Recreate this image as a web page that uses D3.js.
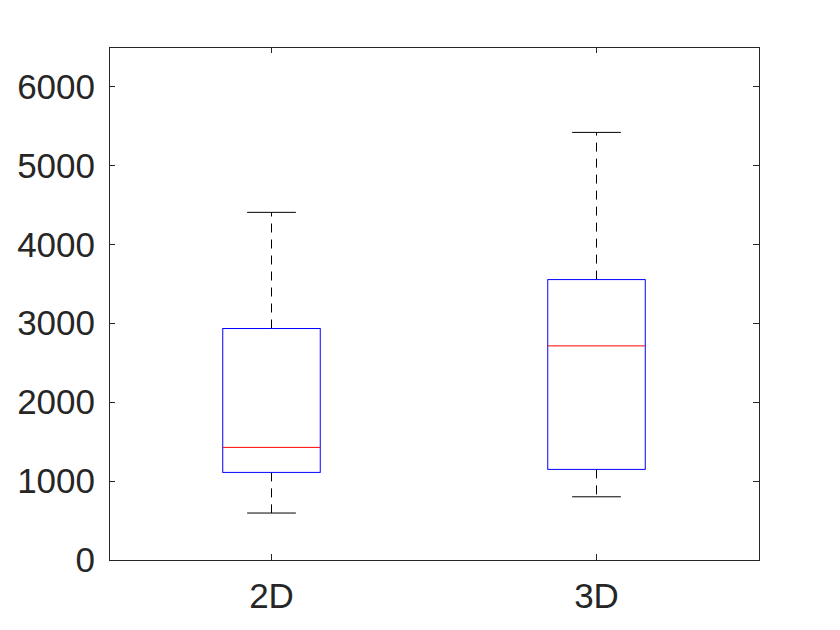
<!DOCTYPE html>
<html>
<head>
<meta charset="utf-8">
<script src="https://cdn.jsdelivr.net/npm/d3@7"></script>
<style>
  body { margin: 0; background: #fff; }
  svg text { font-family: "Liberation Sans", Arial, Helvetica, sans-serif; fill: #262626; }
  .axis-line { shape-rendering: crispEdges; }
</style>
</head>
<body>
<div id="chart"></div>
<script>
// box plot values
var groups = ['2D', '3D'];
var whiskerLow = [595, 801];
var q1 = [1110, 1148];
var median = [1427, 2713];
var q3 = [2933, 3553];
var whiskerHigh = [4405, 5418];
var yTicks = [0, 1000, 2000, 3000, 4000, 5000, 6000];

var svgWidth = 840;
var svgHeight = 630;
var margin = { top: 47, right: 81, bottom: 70, left: 109 };
var width = svgWidth - margin.left - margin.right;
var height = svgHeight - margin.top - margin.bottom;

var svg = d3.select('#chart').append('svg')
    .attr('width', svgWidth)
    .attr('height', svgHeight);

var chartGroup = svg.append('g')
    .attr('transform', `translate(${margin.left},${margin.top})`);

var data = groups.map(function(g, i) {
    return { name: g, idx: i + 1, lo: whiskerLow[i], q1: q1[i], med: median[i], q3: q3[i], hi: whiskerHigh[i] };
});

var x = d3.scaleLinear().domain([0.5, 2.5]).range([0, width]);
var y = d3.scaleLinear().domain([0, 6500]).range([height, 0]);

var boxW = x(1.15) - x(0.85);
var capW = x(1.075) - x(0.925);
var axisColor = '#262626';

// frame
chartGroup.append('rect')
    .attr('class', 'axis-line')
    .attr('x', 0).attr('y', 0)
    .attr('width', width).attr('height', height)
    .attr('fill', 'none')
    .attr('stroke', axisColor)
    .attr('stroke-width', 1);

// ticks (inside, mirrored like matlab)
var tickLen = 6;
yTicks.forEach(function(t) {
    chartGroup.append('line')
        .attr('class', 'axis-line')
        .attr('x1', 0).attr('x2', tickLen)
        .attr('y1', y(t)).attr('y2', y(t))
        .attr('stroke', axisColor);
    chartGroup.append('line')
        .attr('class', 'axis-line')
        .attr('x1', width - tickLen).attr('x2', width)
        .attr('y1', y(t)).attr('y2', y(t))
        .attr('stroke', axisColor);
    chartGroup.append('text')
        .attr('x', -14)
        .attr('y', y(t))
        .attr('dy', '0.35em')
        .attr('text-anchor', 'end')
        .style('font-size', '35px')
        .text(t);
});

data.forEach(function(d) {
    chartGroup.append('line')
        .attr('class', 'axis-line')
        .attr('x1', x(d.idx)).attr('x2', x(d.idx))
        .attr('y1', height - tickLen).attr('y2', height)
        .attr('stroke', axisColor);
    chartGroup.append('line')
        .attr('class', 'axis-line')
        .attr('x1', x(d.idx)).attr('x2', x(d.idx))
        .attr('y1', 0).attr('y2', tickLen)
        .attr('stroke', axisColor);
    chartGroup.append('text')
        .attr('x', x(d.idx))
        .attr('y', height + 48)
        .attr('text-anchor', 'middle')
        .style('font-size', '35px')
        .text(d.name);
});

var boxes = chartGroup.selectAll('.box')
    .data(data)
    .enter()
    .append('g')
    .attr('class', 'box');

// whiskers
boxes.append('line')
    .attr('x1', d => x(d.idx)).attr('x2', d => x(d.idx))
    .attr('y1', d => y(d.q3)).attr('y2', d => y(d.hi))
    .attr('stroke', '#000')
    .attr('stroke-dasharray', '9,7');
boxes.append('line')
    .attr('x1', d => x(d.idx)).attr('x2', d => x(d.idx))
    .attr('y1', d => y(d.q1)).attr('y2', d => y(d.lo))
    .attr('stroke', '#000')
    .attr('stroke-dasharray', '9,7');

// caps
boxes.append('line')
    .attr('x1', d => x(d.idx) - capW / 2).attr('x2', d => x(d.idx) + capW / 2)
    .attr('y1', d => y(d.hi)).attr('y2', d => y(d.hi))
    .attr('stroke', '#000');
boxes.append('line')
    .attr('x1', d => x(d.idx) - capW / 2).attr('x2', d => x(d.idx) + capW / 2)
    .attr('y1', d => y(d.lo)).attr('y2', d => y(d.lo))
    .attr('stroke', '#000');

// box
boxes.append('rect')
    .attr('x', d => x(d.idx) - boxW / 2)
    .attr('y', d => y(d.q3))
    .attr('width', boxW)
    .attr('height', d => y(d.q1) - y(d.q3))
    .attr('fill', 'none')
    .attr('stroke', '#0000ff');

// median
boxes.append('line')
    .attr('x1', d => x(d.idx) - boxW / 2).attr('x2', d => x(d.idx) + boxW / 2)
    .attr('y1', d => y(d.med)).attr('y2', d => y(d.med))
    .attr('stroke', '#ff0000');
</script>
</body>
</html>
